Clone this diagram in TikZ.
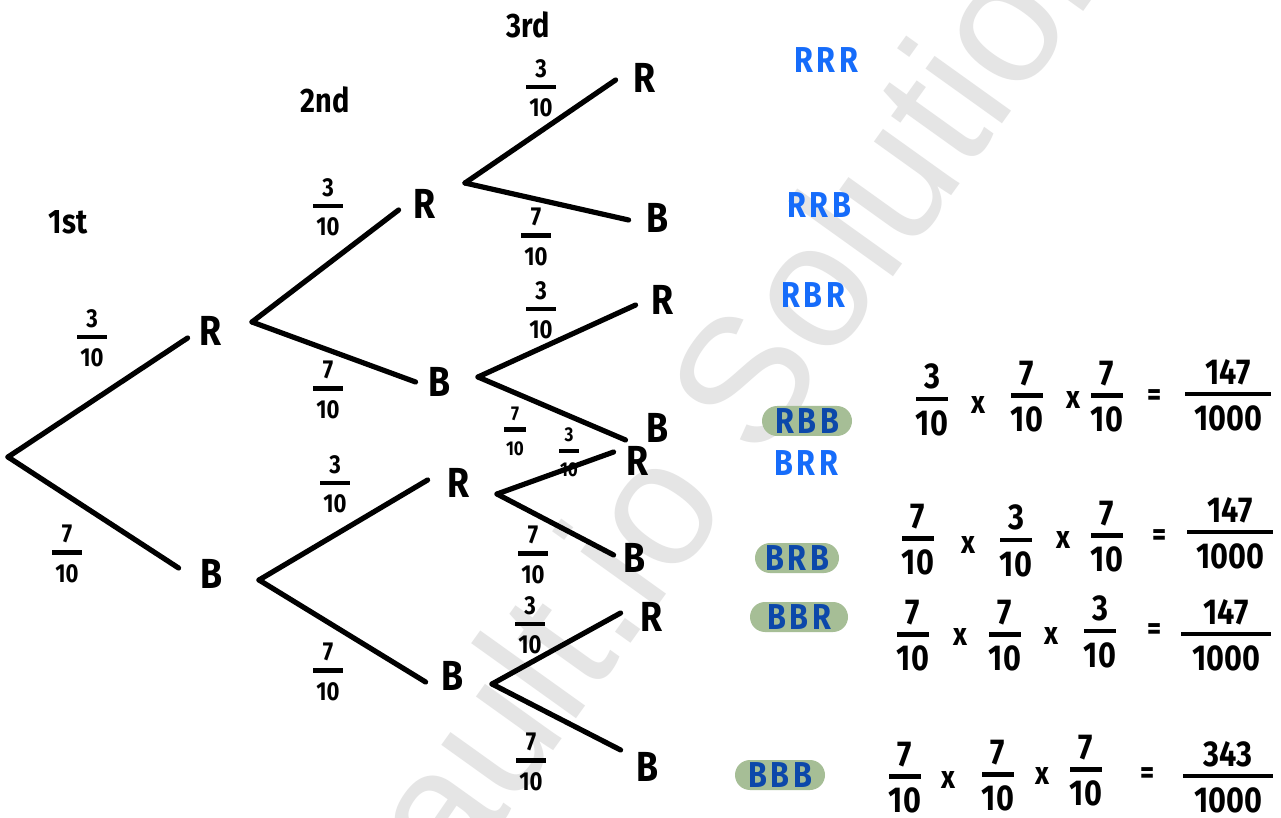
\documentclass[tikz,border=0pt]{standalone}
\usepackage{fontspec}
\setmainfont{Fira Sans}[FakeStretch=0.85]
\newfontfamily\wmfont{Liberation Sans}
\usetikzlibrary{calc,shapes.misc}
\definecolor{outblue}{RGB}{22,108,250}
\definecolor{hlblue}{RGB}{12,72,170}
\definecolor{hlgreen}{RGB}{166,190,150}
\definecolor{wmgray}{RGB}{229,229,229}
% stacked fraction with a thick hand-drawn style bar
\newcommand\hfrac[3]{\shortstack{#2\\[0.5pt]\rule{#1}{2.4pt}\\[1.5pt]#3}}

\begin{document}
\begin{tikzpicture}[x=0.5pt,y=-0.5pt,
  branch/.style={line width=2.6pt, line cap=round, line join=round},
  leaf/.style={inner sep=0pt, font=\fontsize{21}{24}\selectfont\bfseries},
  stage/.style={inner sep=0pt, font=\fontsize{17}{20}\selectfont\bfseries},
  prob/.style={inner sep=0pt, font=\fontsize{13}{15}\selectfont\bfseries},
  probsm/.style={inner sep=0pt, font=\fontsize{10}{12}\selectfont\bfseries},
  outc/.style={inner sep=0pt, text=outblue, font=\fontsize{18}{20}\selectfont\bfseries\addfontfeature{LetterSpace=10}},
  pick/.style={outc, text=hlblue, fill=hlgreen, rounded rectangle, minimum height=15pt},
  eq/.style={inner sep=0pt, font=\fontsize{18}{20}\selectfont\bfseries},
  op/.style={inner sep=0pt, font=\fontsize{16}{18}\selectfont\bfseries}]

\useasboundingbox (0,0) rectangle (1281,818);
\fill[white] (0,0) rectangle (1281,818);

% watermark
\begin{scope}
  \clip (0,0) rectangle (1281,818);
  \node[rotate=54.4, anchor=base west, text=wmgray, inner sep=0pt,
        font=\wmfont\fontsize{89}{89}\selectfont] (wm) at (454,890) {ault.io Solutions};
\end{scope}

% stage headings
\node[stage] (s1) at (68,222) {1st};
\node[stage] (s2) at (325,100) {2nd};
\node[stage] (s3) at (528,25) {3rd};

% fork points
\coordinate (root) at (8,457);
\coordinate (fR)  at (252,322);
\coordinate (fB)  at (259,580);
\coordinate (fRR) at (465,183);
\coordinate (fRB) at (478,377);
\coordinate (fBR) at (497,494);
\coordinate (fBB) at (492,684);

% outcome letters
\node[leaf] (n1R) at (211,331) {R};
\node[leaf] (n1B) at (212,574) {B};
\node[leaf] (n2RR) at (425,204) {R};
\node[leaf] (n2RB) at (440,382) {B};
\node[leaf] (n2BR) at (459,483) {R};
\node[leaf] (n2BB) at (453,676) {B};
\node[leaf] (n3RRR) at (645,78) {R};
\node[leaf] (n3RRB) at (658,218) {B};
\node[leaf] (n3RBR) at (663,300) {R};
\node[leaf] (n3RBB) at (658,428) {B};
\node[leaf] (n3BRR) at (638,461) {R};
\node[leaf] (n3BRB) at (635,558) {B};
\node[leaf] (n3BBR) at (652,617) {R};
\node[leaf] (n3BBB) at (648,767) {B};

% branches
\draw[branch] (root) -- ($(n1R.west)+(-12,7)$);
\draw[branch] (root) -- ($(n1B.west)+(-22,-6)$);
\draw[branch] (fR) -- ($(n2RR.west)+(-15,6)$);
\draw[branch] (fR) -- ($(n2RB.west)+(-13,0)$);
\draw[branch] (fB) -- ($(n2BR.west)+(-20,-3)$);
\draw[branch] (fB) -- ($(n2BB.west)+(-16,6)$);
\draw[branch] (fRR) -- ($(n3RRR.west)+(-18,2)$);
\draw[branch] (fRR) -- ($(n3RRB.west)+(-18,2)$);
\draw[branch] (fRB) -- ($(n3RBR.west)+(-16,5)$);
\draw[branch] (fRB) -- ($(n3RBB.west)+(-21,12)$);
\draw[branch] (fBR) -- ($(n3BRR.west)+(-13,-9)$);
\draw[branch] (fBR) -- ($(n3BRB.west)+(-10,-3)$);
\draw[branch] (fBB) -- ($(n3BBR.west)+(-20,-4)$);
\draw[branch] (fBB) -- ($(n3BBB.west)+(-16,-17)$);

% branch probabilities
\node[prob] (p1R) at (92,338) {\hfrac{15pt}{3}{10}};
\node[prob] (p1B) at (67,554) {\hfrac{15pt}{7}{10}};
\node[prob] (p2RR) at (328,207) {\hfrac{15pt}{3}{10}};
\node[prob] (p2RB) at (328,390) {\hfrac{15pt}{7}{10}};
\node[prob] (p2BR) at (335,484) {\hfrac{15pt}{3}{10}};
\node[prob] (p2BB) at (328,672) {\hfrac{15pt}{7}{10}};
\node[prob] (p3RRR) at (541,88) {\hfrac{15pt}{3}{10}};
\node[prob] (p3RRB) at (536,237) {\hfrac{15pt}{7}{10}};
\node[prob] (p3RBR) at (541,310) {\hfrac{15pt}{3}{10}};
\node[probsm] (p3RBB) at (515,431) {\hfrac{11pt}{7}{10}};
\node[probsm] (p3BRR) at (569,452) {\hfrac{10pt}{3}{10}};
\node[prob] (p3BRB) at (533,555) {\hfrac{15pt}{7}{10}};
\node[prob] (p3BBR) at (530,625) {\hfrac{15pt}{3}{10}};
\node[prob] (p3BBB) at (531,762) {\hfrac{15pt}{7}{10}};

% outcomes
\node[outc] (oRRR) at (826,60) {RRR};
\node[outc] (oRRB) at (819,205) {RRB};
\node[outc] (oRBR) at (813,295) {RBR};
\node[pick, minimum width=45pt] (oRBB) at (807,421) {RBB};
\node[outc] (oBRR) at (806,463) {BRR};
\node[pick, minimum width=42pt] (oBRB) at (797,558) {BRB};
\node[pick, minimum width=49pt] (oBBR) at (799,617) {BBR};
\node[pick, minimum width=45pt] (oBBB) at (780,775) {BBB};

% RBB
\node[eq] (a1) at (932,400) {\hfrac{16pt}{3}{10}};
\node[op] (a2) at (978,405) {x};
\node[eq] (a3) at (1027,397) {\hfrac{16pt}{7}{10}};
\node[op] (a4) at (1073,400) {x};
\node[eq] (a5) at (1107,397) {\hfrac{16pt}{7}{10}};
\node[op] (a6) at (1155,398) {=};
\node[eq] (a7) at (1228,395) {\hfrac{43pt}{147}{1000}};
% BRB
\node[eq] (b1) at (918,540) {\hfrac{16pt}{7}{10}};
\node[op] (b2) at (968,545) {x};
\node[eq] (b3) at (1016,541) {\hfrac{16pt}{3}{10}};
\node[op] (b4) at (1063,540) {x};
\node[eq] (b5) at (1107,537) {\hfrac{16pt}{7}{10}};
\node[op] (b6) at (1160,538) {=};
\node[eq] (b7) at (1230,533) {\hfrac{43pt}{147}{1000}};
% BBR
\node[eq] (c1) at (913,636) {\hfrac{16pt}{7}{10}};
\node[op] (c2) at (960,637) {x};
\node[eq] (c3) at (1005,636) {\hfrac{16pt}{7}{10}};
\node[op] (c4) at (1051,636) {x};
\node[eq] (c5) at (1100,632) {\hfrac{16pt}{3}{10}};
\node[op] (c6) at (1155,632) {=};
\node[eq] (c7) at (1226,635) {\hfrac{45pt}{147}{1000}};
% BBB
\node[eq] (d1) at (905,778) {\hfrac{16pt}{7}{10}};
\node[op] (d2) at (948,780) {x};
\node[eq] (d3) at (998,776) {\hfrac{16pt}{7}{10}};
\node[op] (d4) at (1042,776) {x};
\node[eq] (d5) at (1086,771) {\hfrac{16pt}{7}{10}};
\node[op] (d6) at (1148,776) {=};
\node[eq] (d7) at (1228,777) {\hfrac{45pt}{343}{1000}};
\end{tikzpicture}
\end{document}
